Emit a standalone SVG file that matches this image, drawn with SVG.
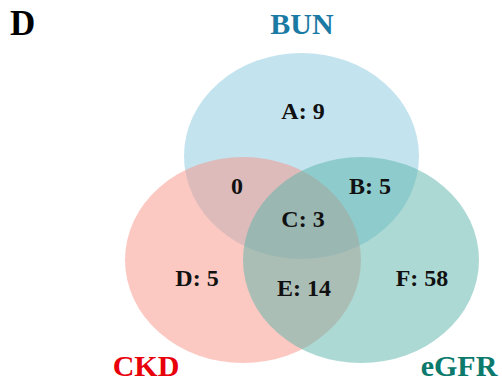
<svg xmlns="http://www.w3.org/2000/svg" width="502" height="387" viewBox="0 0 502 387">
<style>
.t{font-family:"Liberation Serif","Times New Roman",serif;font-weight:bold;text-anchor:middle}
.l{font-size:24px;fill:#111}
.h{font-size:30px}
.s{opacity:0.5}
</style>
<rect width="502" height="387" fill="#fff"/>
<g id="sets">
<g id="bun"><ellipse class="s" cx="301.5" cy="156" rx="117.5" ry="103" fill="#88c8e0"/></g>
<g id="ckd"><ellipse class="s" cx="243" cy="260" rx="118" ry="103" fill="#f79385"/></g>
<g id="egfr"><ellipse class="s" cx="361" cy="260" rx="118" ry="103" fill="#59b3a9"/></g>
</g>
<g id="connectors"></g>
<g id="labels">
<text class="t" x="10" y="35" style="font-size:35px;text-anchor:start" fill="#000">D</text>
<text class="t h" x="302" y="34" fill="#1b7aa3">BUN</text>
<text class="t h" x="146" y="376" fill="#e8000b">CKD</text>
<text class="t h" x="459" y="376" fill="#0b7a6c">eGFR</text>
<text class="t l" x="303" y="119">A: 9</text>
<text class="t l" x="237" y="194">0</text>
<text class="t l" x="370" y="194">B: 5</text>
<text class="t l" x="303" y="227">C: 3</text>
<text class="t l" x="197" y="286">D: 5</text>
<text class="t l" x="304" y="296">E: 14</text>
<text class="t l" x="422" y="286">F: 58</text>
</g>
</svg>
